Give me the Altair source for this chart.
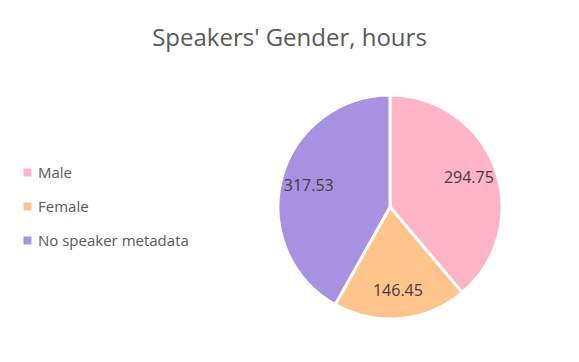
import altair as alt
import pandas as pd

categories = ["Male", "Female", "No speaker metadata"]
hours = [294.75, 146.45, 317.53]
labels = ["294.75", "146.45", "317.53"]
order = [0, 1, 2]
colors = ["#FFB3C6", "#FFC48C", "#A891E0"]

df = pd.DataFrame({"cat": categories, "hours": hours, "label": labels, "order": order})

FONT = "Open Sans"
CX, CY, R = 382, 139, 112

base = alt.Chart(df).encode(
    theta=alt.Theta("hours:Q", stack=True),
    order=alt.Order("order:Q"),
)

pie = base.mark_arc(outerRadius=R, stroke="white", strokeWidth=3).encode(
    x=alt.value(CX), y=alt.value(CY),
    color=alt.Color(
        "cat:N",
        scale=alt.Scale(domain=categories, range=colors),
        sort=categories,
        legend=alt.Legend(
            title=None, orient="none", legendX=12, legendY=97,
            symbolType="square", symbolSize=64, symbolStrokeWidth=0,
            labelFont=FONT, labelFontSize=15, labelColor="#595959",
            rowPadding=18, labelOffset=3,
        ),
    ),
)

text = base.mark_text(radius=84, font=FONT, fontSize=16, color="#404040").encode(
    x=alt.value(CX), y=alt.value(CY),
    text="label:N",
)

chart = (pie + text).properties(
    width=563, height=286,
    padding={"top": 60, "left": 0, "right": 0, "bottom": 0},
    autosize=alt.AutoSizeParams(type="none"),
    title=alt.TitleParams("Speakers' Gender, hours", font=FONT, fontSize=24,
                          fontWeight="normal", color="#595959", anchor="middle", offset=17),
    background="white",
).configure_view(stroke=None)

chart.save("out.html", embed_options={"renderer": "svg", "actions": False})
